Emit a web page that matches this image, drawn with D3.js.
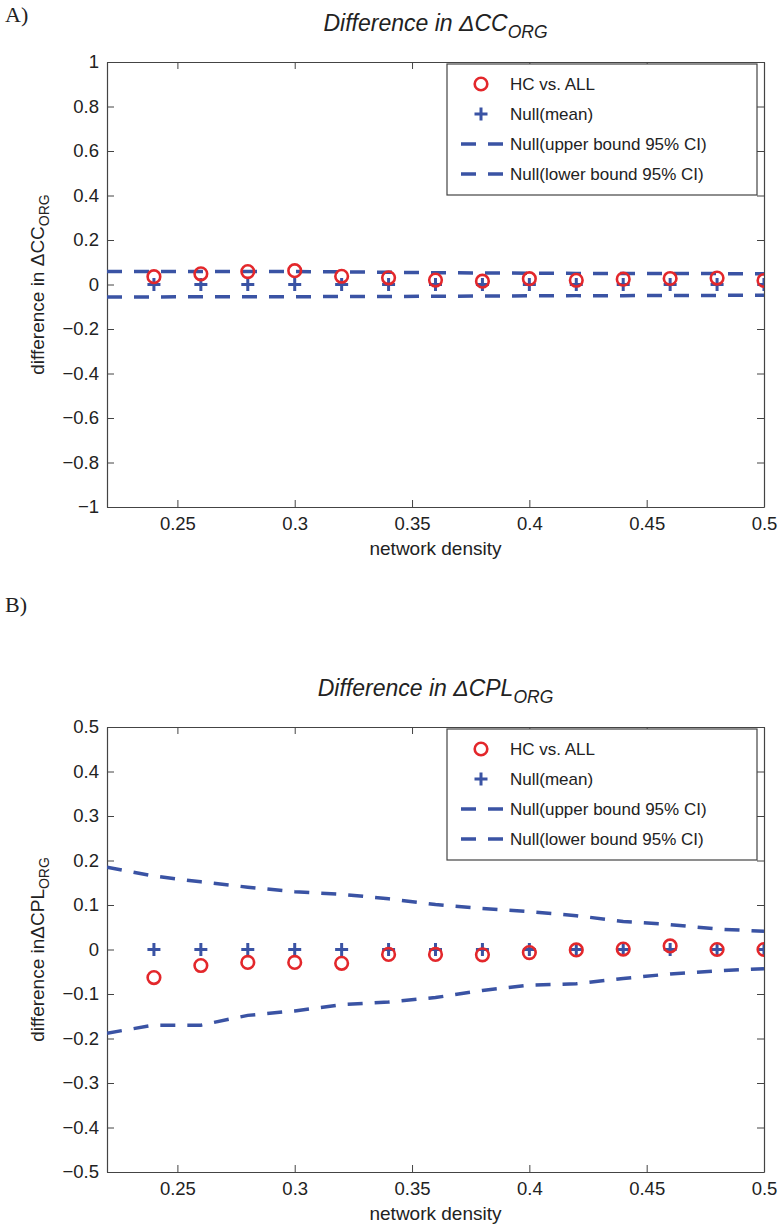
<!DOCTYPE html>
<html>
<head>
<meta charset="utf-8">
<script src="https://cdn.jsdelivr.net/npm/d3@7"></script>
<style>
  html, body { margin: 0; padding: 0; background: #fff; }
  svg { display: block; }
  text { font-family: "Liberation Sans", Arial, Helvetica, sans-serif; fill: #222; }
</style>
</head>
<body>
<svg id="chart" width="782" height="1228"></svg>
<script>
// ---------- data ----------
const densities = [0.24, 0.26, 0.28, 0.30, 0.32, 0.34, 0.36, 0.38, 0.40, 0.42, 0.44, 0.46, 0.48, 0.50];
const ciDensities = [0.22, 0.24, 0.26, 0.28, 0.30, 0.32, 0.34, 0.36, 0.38, 0.40, 0.42, 0.44, 0.46, 0.48, 0.50];
const xTicks = [0.25, 0.3, 0.35, 0.4, 0.45, 0.5];

// Panel A: difference in ΔCC_ORG
const ccHC = [0.035, 0.048, 0.058, 0.062, 0.037, 0.030, 0.020, 0.015, 0.026, 0.019, 0.024, 0.027, 0.029, 0.018];
const ccNullMean = [0, 0, 0, 0, 0, 0, 0, 0, 0, 0, 0, 0, 0, 0];
const ccUpper = [0.058, 0.058, 0.058, 0.058, 0.058, 0.057, 0.055, 0.053, 0.052, 0.051, 0.050, 0.050, 0.049, 0.049, 0.048];
const ccLower = [-0.056, -0.056, -0.055, -0.055, -0.055, -0.054, -0.054, -0.053, -0.052, -0.051, -0.050, -0.050, -0.049, -0.049, -0.048];
const ccYTicks = [1, 0.8, 0.6, 0.4, 0.2, 0, -0.2, -0.4, -0.6, -0.8, -1];

// Panel B: difference in ΔCPL_ORG
const cplHC = [-0.063, -0.036, -0.029, -0.029, -0.031, -0.011, -0.011, -0.012, -0.007, -0.001, 0.001, 0.008, 0.000, 0.000];
const cplNullMean = [0, 0, 0, 0, 0, 0, 0, 0, 0, 0, 0, 0, 0, 0];
const cplUpper = [0.185, 0.165, 0.152, 0.140, 0.130, 0.124, 0.114, 0.101, 0.092, 0.085, 0.076, 0.063, 0.056, 0.046, 0.041];
const cplLower = [-0.188, -0.170, -0.170, -0.148, -0.138, -0.124, -0.118, -0.108, -0.092, -0.080, -0.077, -0.065, -0.055, -0.048, -0.043];
const cplYTicks = [0.5, 0.4, 0.3, 0.2, 0.1, 0, -0.1, -0.2, -0.3, -0.4, -0.5];

const legendLabels = ["HC vs. ALL", "Null(mean)", "Null(upper bound 95% CI)", "Null(lower bound 95% CI)"];

// ---------- styles ----------
const RED = "#e3272b";
const BLUE = "#3a53a4";
const AXIS = "#444";

const svg = d3.select("#chart");

function fmt(v) {
  if (v === 0) return "0";
  const s = String(Math.abs(v));
  return (v < 0 ? "\u2212" : "") + s;
}

function panel(opts) {
  const left = 107, right = 764;
  const top = opts.top, bottom = opts.top + 445;
  const x = d3.scaleLinear().domain([0.22, 0.5]).range([left, right]);
  const y = d3.scaleLinear().domain(opts.yDomain).range([bottom, top]);
  const g = svg.append("g");

  // panel letter
  g.append("text").attr("x", 5).attr("y", opts.letterY)
    .style("font-family", "'Liberation Serif', 'Times New Roman', serif")
    .style("font-size", "22px").text(opts.letter);

  // title
  const t = g.append("text").attr("x", (left + right) / 2).attr("y", top - 31)
    .attr("text-anchor", "middle")
    .style("font-size", "23px").style("font-style", "italic");
  t.append("tspan").text(opts.titleMain);
  t.append("tspan").attr("dy", 7).style("font-size", "17.5px").text("ORG");

  // clip
  const clipId = "clip" + opts.letter[0];
  svg.append("clipPath").attr("id", clipId).append("rect")
    .attr("x", left).attr("y", top).attr("width", right - left).attr("height", bottom - top);

  // axes with inward ticks
  const tickLen = 7;
  const axB = d3.axisBottom(x).tickValues(xTicks).tickSizeInner(-tickLen).tickSizeOuter(0).tickPadding(10).tickFormat(d => String(+d.toFixed(2)));
  const axT = d3.axisTop(x).tickValues(xTicks).tickSizeInner(-tickLen).tickSizeOuter(0).tickFormat("");
  const axL = d3.axisLeft(y).tickValues(opts.yTicks).tickSizeInner(-tickLen).tickSizeOuter(0).tickPadding(8).tickFormat(fmt);
  const axR = d3.axisRight(y).tickValues(opts.yTicks).tickSizeInner(-tickLen).tickSizeOuter(0).tickFormat("");

  const gB = g.append("g").attr("transform", `translate(0,${bottom})`).call(axB);
  const gT = g.append("g").attr("transform", `translate(0,${top})`).call(axT);
  const gL = g.append("g").attr("transform", `translate(${left},0)`).call(axL);
  const gR = g.append("g").attr("transform", `translate(${right},0)`).call(axR);
  [gB, gT, gL, gR].forEach(a => {
    a.select(".domain").attr("stroke", AXIS).attr("stroke-width", 1.2);
    a.selectAll(".tick line").attr("stroke", AXIS).attr("stroke-width", 1);
    a.selectAll(".tick text").style("font-size", "18.5px").attr("fill", "#222")
      .style("font-family", "'Liberation Sans', Arial, sans-serif");
  });

  // x label
  g.append("text").attr("x", (left + right) / 2).attr("y", bottom + 48)
    .attr("text-anchor", "middle").style("font-size", "19px").text("network density");

  // y label
  const yl = g.append("text")
    .attr("transform", `translate(44,${(top + bottom) / 2}) rotate(-90)`)
    .attr("text-anchor", "middle").style("font-size", "19px");
  yl.append("tspan").text(opts.yLabelMain);
  yl.append("tspan").attr("dy", 5).style("font-size", "14px").text("ORG");

  // data
  const plot = g.append("g").attr("clip-path", `url(#${clipId})`);
  const line = d3.line().x((d, i) => x(ciDensities[i])).y(d => y(d));
  [opts.upper, opts.lower].forEach(arr => {
    plot.append("path").datum(arr).attr("d", line)
      .attr("fill", "none").attr("stroke", BLUE).attr("stroke-width", 3.5)
      .attr("stroke-dasharray", "15,12");
  });

  // null mean plus markers
  const pm = 6.5;
  plot.selectAll(".plus").data(opts.nullMean).enter().append("path")
    .attr("d", (d, i) => {
      const cx = x(densities[i]), cy = y(d);
      return `M${cx - pm},${cy}H${cx + pm}M${cx},${cy - pm}V${cy + pm}`;
    })
    .attr("stroke", BLUE).attr("stroke-width", 3).attr("fill", "none");

  // HC circles
  plot.selectAll(".hc").data(opts.hc).enter().append("circle")
    .attr("cx", (d, i) => x(densities[i])).attr("cy", d => y(d)).attr("r", 6.3)
    .attr("fill", "none").attr("stroke", RED).attr("stroke-width", 2.6);

  // legend
  const lx = 447, lw = 310, ly = top + opts.legendOffset, lh = 131;
  const lg = g.append("g");
  lg.append("rect").attr("x", lx).attr("y", ly).attr("width", lw).attr("height", lh)
    .attr("fill", "#fff").attr("stroke", AXIS).attr("stroke-width", 1.2);
  legendLabels.forEach((lab, i) => {
    const ry = ly + 20 + i * 30;
    const mx = lx + 34;
    if (i === 0) {
      lg.append("circle").attr("cx", mx).attr("cy", ry).attr("r", 6.3)
        .attr("fill", "none").attr("stroke", RED).attr("stroke-width", 2.6);
    } else if (i === 1) {
      lg.append("path").attr("d", `M${mx - pm},${ry}H${mx + pm}M${mx},${ry - pm}V${ry + pm}`)
        .attr("stroke", BLUE).attr("stroke-width", 3);
    } else {
      lg.append("line").attr("x1", lx + 14).attr("x2", lx + 56).attr("y1", ry).attr("y2", ry)
        .attr("stroke", BLUE).attr("stroke-width", 3.5).attr("stroke-dasharray", "15,12");
    }
    lg.append("text").attr("x", lx + 63).attr("y", ry + 6).style("font-size", "17px").text(lab);
  });
}

panel({
  top: 62, letter: "A)", letterY: 22, yDomain: [-1, 1], yTicks: ccYTicks,
  titleMain: "Difference in \u0394CC", yLabelMain: "difference in \u0394CC",
  hc: ccHC, nullMean: ccNullMean, upper: ccUpper, lower: ccLower, legendOffset: 2
});
panel({
  top: 727, letter: "B)", letterY: 612, yDomain: [-0.5, 0.5], yTicks: cplYTicks,
  titleMain: "Difference in \u0394CPL", yLabelMain: "difference in\u0394CPL",
  hc: cplHC, nullMean: cplNullMean, upper: cplUpper, lower: cplLower, legendOffset: 2
});
</script>
</body>
</html>
